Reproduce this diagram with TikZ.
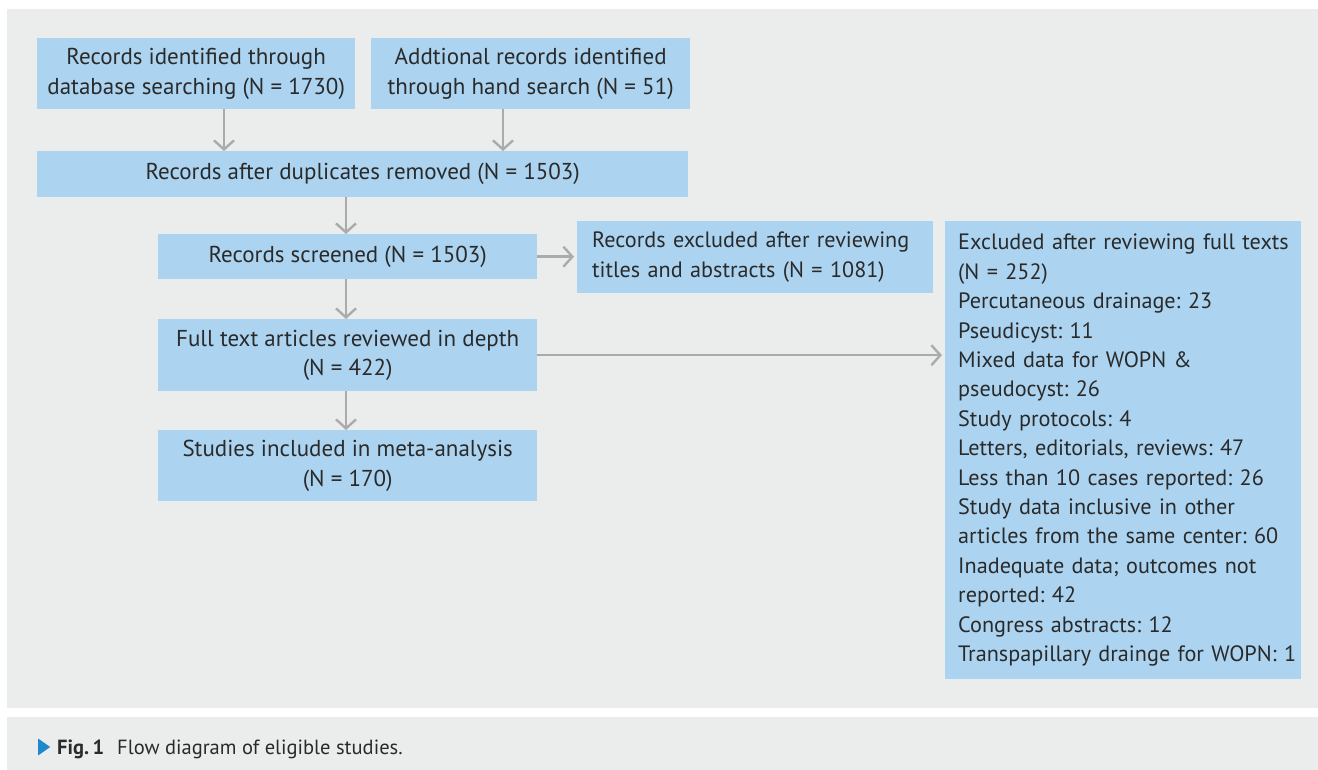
\documentclass[tikz,border=0pt]{standalone}
\usepackage{fontspec}
\setmainfont{PT Sans}
\frenchspacing
\hyphenpenalty=10000
\hfuzz=50pt
\usetikzlibrary{arrows.meta,shapes.geometric}
\definecolor{panel}{HTML}{EBECEC}
\definecolor{boxblue}{HTML}{ACD4F0}
\definecolor{arrgray}{HTML}{ABABAB}
\definecolor{txt}{HTML}{2A2A2A}
\definecolor{tri}{HTML}{1C8ACB}
\newcommand\oneline[1]{\mbox{#1}}
\tikzset{
  box/.style={fill=boxblue, draw=none, anchor=north west, inner sep=0pt, align=center,
    text=txt, font=\fontsize{23}{29.4}\selectfont},
  lbox/.style={box, align=left, font=\fontsize{22.2}{29.4}\selectfont},
  arr/.style={draw=arrgray, line width=2.4pt, -{Straight Barb[length=9pt, width=20pt, line width=2.4pt]}},
}
\begin{document}
\begin{tikzpicture}[x=1pt, y=-1pt]
\useasboundingbox (0,0) rectangle (1318,770);
\fill[white] (0,0) rectangle (1318,770);
\fill[panel] (7,9) rectangle (1318,708);
\fill[panel] (7,717) rectangle (1318,770);

\node[box, minimum width=318pt, minimum height=71pt] (A) at (37,38) {Records identified through\\database searching (N = 1730)};
\node[box, minimum width=319pt, minimum height=71pt] (B) at (371,38) {Addtional records identified\\through hand search (N = 51)};
\node[box, minimum width=651pt, minimum height=46pt] (C) at (37,151) {Records after duplicates removed (N = 1503)};
\node[box, minimum width=379pt, minimum height=45pt] (D) at (158,234) {Records screened (N = 1503)};
\node[lbox, minimum width=356pt, minimum height=72pt, text width=326pt, inner xsep=15pt] (E) at (577,221) {\oneline{Records excluded after reviewing}\\\oneline{titles and abstracts (N = 1081)}};
\node[box, minimum width=379pt, minimum height=72pt] (F) at (158,319) {Full text articles reviewed in depth\\(N = 422)};
\node[box, minimum width=379pt, minimum height=71pt] (G) at (158,430) {Studies included in meta-analysis\\(N = 170)};
\node[lbox, minimum width=356pt, minimum height=458pt, text width=330pt, inner xsep=13pt] (H) at (945,221) {\oneline{Excluded after reviewing full texts}\\\oneline{(N = 252)}\\\oneline{Percutaneous drainage: 23}\\\oneline{Pseudicyst: 11}\\\oneline{Mixed data for WOPN \&}\\\oneline{pseudocyst: 26}\\\oneline{Study protocols: 4}\\\oneline{Letters, editorials, reviews: 47}\\\oneline{Less than 10 cases reported: 26}\\\oneline{Study data inclusive in other}\\\oneline{articles from the same center: 60}\\\oneline{Inadequate data; outcomes not}\\\oneline{reported: 42}\\\oneline{Congress abstracts: 12}\\\oneline{Transpapillary drainge for WOPN: 1}};

\coordinate (xa) at (224,0);
\coordinate (xb) at (503,0);
\coordinate (xm) at (346,0);
\draw[arr] (A.south -| xa) -- (C.north -| xa);
\draw[arr] (B.south -| xb) -- (C.north -| xb);
\draw[arr] (C.south -| xm) -- (D.north -| xm);
\draw[arr] (D.south -| xm) -- (F.north -| xm);
\draw[arr] (F.south -| xm) -- (G.north -| xm);
\draw[arr, shorten >=3pt] (D.east) -- (D.east -| E.west);
\draw[arr, shorten >=3pt] (F.east) -- (F.east -| H.west);

\node[fill=tri, isosceles triangle, isosceles triangle apex angle=70, inner sep=0pt, minimum height=12pt, anchor=west] (tr) at (38,747) {};
\node[anchor=base west, inner sep=0pt, text=txt, font=\fontsize{20.5}{24}\selectfont] (cap) at (57,754) {\textbf{Fig.\,1}\hspace{13pt}Flow diagram of eligible studies.};
\end{tikzpicture}
\end{document}
